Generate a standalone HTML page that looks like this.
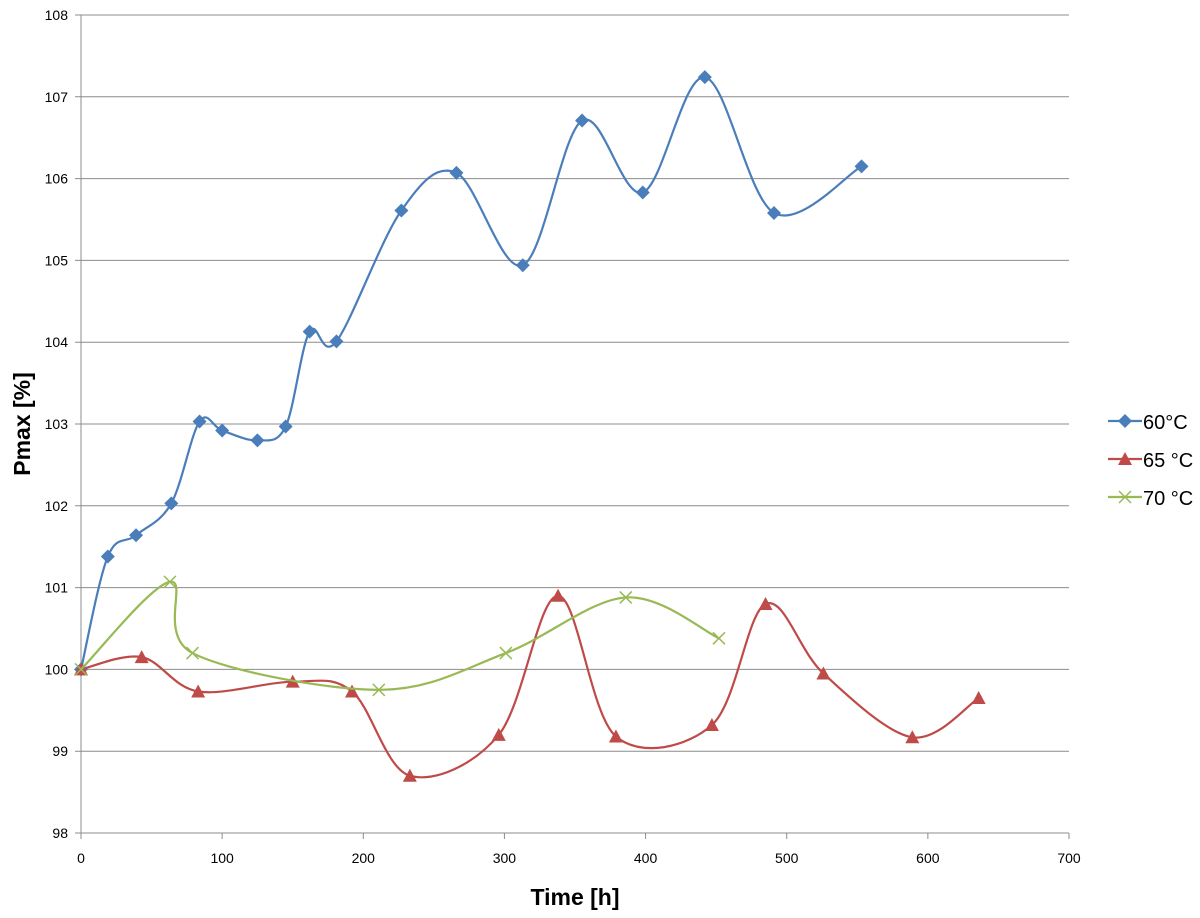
<!DOCTYPE html>
<html><head><meta charset="utf-8"><style>
body{margin:0;background:#fff;}
svg{display:block;font-family:"Liberation Sans",sans-serif;}
</style></head><body>
<svg id="chart" width="1200" height="918"></svg>
<script>
const xTicks=[0,100,200,300,400,500,600,700];
const yTicks=[98,99,100,101,102,103,104,105,106,107,108];
const s60x=[0,19,39,64,84,100,125,145,162,181,227,266,313,355,398,442,491,553];
const s60y=[100,101.38,101.64,102.03,103.03,102.92,102.8,102.97,104.13,104.01,105.61,106.07,104.94,106.71,105.83,107.24,105.58,106.15];
const s65x=[0,43,83,150,192,233,296,338,379,447,485,526,589,636];
const s65y=[100,100.15,99.73,99.85,99.73,98.7,99.2,100.9,99.18,99.32,100.8,99.95,99.17,99.65];
const s70x=[0,63,79,211,301,386,452];
const s70y=[100,101.07,100.2,99.75,100.2,100.88,100.38];

const NS="http://www.w3.org/2000/svg";
const svg=document.getElementById('chart');
const X0=81,X1=1069,Y0=833,Y1=15;
const sx=v=>X0+(v-0)/(700)*(X1-X0);
const sy=v=>Y0-(v-98)/10*(Y0-Y1);
function el(t,a,p){const e=document.createElementNS(NS,t);for(const k in a)e.setAttribute(k,a[k]);(p||svg).appendChild(e);return e;}

yTicks.forEach(v=>{
  const g=el('line',{x1:X0-6,x2:X1,y1:sy(v),y2:sy(v),stroke:'#8c8c8c','stroke-width':1});
  
  
  const t=el('text',{x:X0-13,y:sy(v)+5,'text-anchor':'end','font-size':14,fill:'#000'});
  t.textContent=v;
  
  
});
const ax=el('line',{x1:X0,x2:X0,y1:Y1,y2:Y0,stroke:'#8c8c8c','stroke-width':1});


xTicks.forEach(v=>{
  const tk=el('line',{x1:sx(v),x2:sx(v),y1:Y0,y2:Y0+6,stroke:'#8c8c8c'});
  
  
  const t=el('text',{x:sx(v),y:Y0+30,'text-anchor':'middle','font-size':14,fill:'#000'});
  t.textContent=v;
  
  
});
const xt=el('text',{x:575,y:905,'text-anchor':'middle','font-size':23,'font-weight':'bold'});
xt.textContent='Time [h]';


const yt=el('text',{x:0,y:0,'text-anchor':'middle','font-size':23,'font-weight':'bold',transform:'translate(30,424) rotate(-90)'});
yt.textContent='Pmax [%]';



function smooth(xs,ys){
  const p=xs.map((x,i)=>[sx(x),sy(ys[i])]);
  let d='M'+p[0][0]+','+p[0][1];
  for(let i=0;i<p.length-1;i++){
    const a=p[i-1]||p[i],b=p[i],c=p[i+1],e=p[i+2]||c;
    d+=' C'+(b[0]+(c[0]-a[0])/6)+','+(b[1]+(c[1]-a[1])/6)+' '+(c[0]-(e[0]-b[0])/6)+','+(c[1]-(e[1]-b[1])/6)+' '+c[0]+','+c[1];
  }
  return d;
}
function marker(type,x,y,col,g){
  if(type==='d')return el('polygon',{points:`${x},${y-7} ${x+7},${y} ${x},${y+7} ${x-7},${y}`,fill:col},g);
  if(type==='t')return el('polygon',{points:`${x},${y-7} ${x+7},${y+6} ${x-7},${y+6}`,fill:col},g);
  return el('path',{d:`M${x-6},${y-6}L${x+6},${y+6}M${x-6},${y+6}L${x+6},${y-6}`,stroke:col,'stroke-width':1.5,fill:'none'},g);
}
const series=[['60°C',s60x,s60y,'#4a7ebb','d'],['65 °C',s65x,s65y,'#be4b48','t'],['70 °C',s70x,s70y,'#98b954','x']];
series.forEach((s,k)=>{
  const g=el('g',{});
  
  
  el('path',{d:smooth(s[1],s[2]),fill:'none',stroke:s[3],'stroke-width':2.2},g);
  s[1].forEach((x,i)=>{
    const m=marker(s[4],sx(x),sy(s[2][i]),s[3],g);
    
    
  });
  const ly=421+k*38;
  const lg=el('g',{});
  
  
  el('line',{x1:1108,x2:1142,y1:ly,y2:ly,stroke:s[3],'stroke-width':2.2},lg);
  marker(s[4],1125,ly,s[3],lg);
  const t=el('text',{x:1143,y:ly+8,'font-size':20,fill:'#000'},lg);
  t.textContent=s[0];
});
</script>
</body></html>
